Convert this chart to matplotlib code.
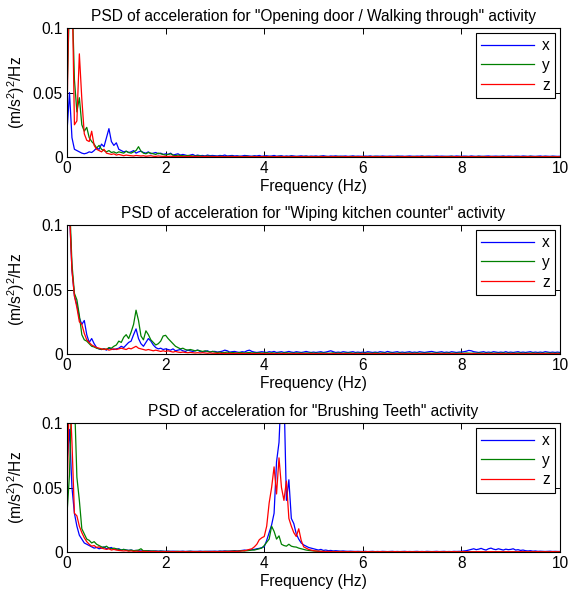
import numpy as np
import matplotlib
matplotlib.use("Agg")
import matplotlib.pyplot as plt

plt.rcParams['font.family'] = ['Liberation Sans', 'DejaVu Sans']
plt.rcParams['mathtext.fontset'] = 'custom'
plt.rcParams['mathtext.rm'] = 'Liberation Sans'
plt.rcParams['mathtext.it'] = 'Liberation Sans'

# frequency axis, 0..10 Hz in 0.05 Hz steps
freq = np.linspace(0, 10, 201)

titles = ['PSD of acceleration for "Opening door / Walking through" activity',
          'PSD of acceleration for "Wiping kitchen counter" activity',
          'PSD of acceleration for "Brushing Teeth" activity']
labels = ['x', 'y', 'z']

# PSD values in units of 1e-4 (m/s^2)^2/Hz, one row per Hz
door_x = [200, 500, 150, 60, 50, 40, 30, 25, 30, 40, 35, 50, 70, 60, 100, 80, 150, 220, 120, 90,
          110, 60, 50, 40, 45, 35, 40, 50, 30, 40, 45, 35, 30, 40, 25, 30, 35, 25, 30, 20,
          25, 20, 30, 15, 20, 25, 15, 20, 15, 10, 15, 20, 10, 15, 10, 12, 8, 15, 10, 12,
          10, 8, 12, 10, 15, 8, 10, 12, 8, 10, 6, 8, 12, 10, 8, 6, 10, 8, 12, 6,
          8, 10, 6, 8, 12, 6, 8, 10, 5, 8, 6, 10, 8, 5, 7, 9, 6, 8, 5, 7,
          6, 8, 5, 7, 10, 6, 5, 8, 6, 9, 5, 7, 6, 8, 5, 6, 9, 5, 7, 6,
          5, 7, 6, 8, 5, 6, 7, 5, 8, 6, 5, 7, 6, 5, 8, 6, 7, 5, 6, 8,
          6, 5, 7, 6, 8, 5, 6, 7, 5, 6, 8, 5, 7, 6, 5, 6, 7, 5, 8, 6,
          5, 7, 6, 5, 8, 6, 5, 7, 6, 5, 7, 8, 5, 6, 7, 5, 6, 8, 5, 7,
          6, 5, 7, 6, 5, 8, 6, 5, 7, 6, 5, 6, 8, 5, 7, 6, 5, 7, 6, 5,
          6]
door_y = [500, 1200, 1300, 600, 350, 460, 250, 200, 230, 150, 120, 100, 70, 90, 60, 50, 40, 50, 35, 40,
          30, 40, 35, 30, 45, 35, 30, 40, 50, 80, 45, 30, 25, 35, 30, 25, 20, 30, 25, 20,
          15, 20, 25, 15, 10, 15, 12, 10, 8, 12, 10, 8, 6, 10, 8, 6, 5, 8, 6, 5,
          5, 4, 6, 5, 3, 5, 4, 6, 3, 4, 5, 3, 4, 6, 3, 4, 5, 3, 4, 3,
          4, 3, 5, 3, 4, 3, 5, 4, 3, 4, 3, 5, 3, 4, 3, 4, 3, 5, 3, 4,
          3, 4, 3, 5, 3, 4, 3, 3, 4, 3, 5, 3, 4, 3, 3, 4, 3, 4, 3, 3,
          4, 3, 3, 4, 3, 5, 3, 4, 3, 3, 4, 3, 3, 4, 3, 4, 3, 3, 4, 3,
          3, 4, 3, 3, 5, 3, 4, 3, 4, 3, 3, 4, 3, 3, 4, 3, 5, 3, 3, 4,
          3, 3, 4, 3, 4, 3, 3, 5, 3, 4, 3, 3, 4, 3, 3, 4, 3, 4, 3, 3,
          4, 3, 3, 4, 3, 3, 4, 3, 5, 3, 3, 4, 3, 3, 4, 3, 3, 4, 3, 3,
          3]
door_z = [300, 1500, 1400, 250, 280, 800, 450, 180, 130, 120, 200, 90, 60, 50, 40, 60, 30, 25, 20, 25,
          15, 20, 15, 10, 15, 12, 10, 8, 12, 10, 8, 10, 6, 8, 10, 6, 5, 8, 6, 5,
          5, 4, 6, 4, 3, 5, 4, 3, 4, 3, 5, 3, 4, 3, 2, 3, 4, 3, 2, 3,
          2, 3, 2, 3, 2, 2, 3, 2, 3, 2, 2, 3, 2, 2, 3, 2, 3, 2, 2, 3,
          2, 2, 3, 2, 2, 3, 2, 2, 3, 2, 2, 2, 3, 2, 2, 3, 2, 2, 2, 3,
          2, 2, 2, 3, 2, 2, 2, 2, 3, 2, 2, 2, 2, 3, 2, 2, 2, 2, 2, 3,
          2, 2, 2, 2, 3, 2, 2, 2, 2, 2, 2, 3, 2, 2, 2, 2, 2, 3, 2, 2,
          2, 2, 2, 3, 2, 2, 2, 2, 2, 2, 3, 2, 2, 2, 2, 2, 2, 2, 3, 2,
          2, 2, 2, 2, 3, 2, 2, 2, 2, 2, 2, 2, 3, 2, 2, 2, 2, 2, 2, 2,
          3, 2, 2, 2, 2, 2, 2, 3, 2, 2, 2, 2, 2, 2, 3, 2, 2, 2, 2, 2,
          2]

wipe_x = [1500, 1100, 650, 450, 380, 280, 230, 260, 150, 90, 120, 80, 50, 40, 35, 40, 30, 45, 40, 35,
          40, 45, 60, 50, 70, 90, 100, 150, 195, 120, 80, 60, 90, 120, 100, 70, 50, 40, 45, 35,
          40, 35, 30, 40, 25, 30, 35, 25, 20, 30, 25, 20, 25, 30, 20, 15, 20, 25, 15, 20,
          20, 15, 18, 22, 30, 25, 15, 18, 20, 15, 12, 18, 15, 25, 30, 20, 15, 12, 15, 18,
          15, 12, 18, 15, 20, 12, 15, 18, 12, 15, 20, 15, 12, 18, 15, 12, 15, 20, 15, 12,
          15, 12, 15, 18, 12, 15, 20, 25, 18, 12, 15, 12, 18, 15, 12, 15, 18, 12, 15, 12,
          15, 12, 18, 15, 12, 15, 12, 18, 15, 12, 20, 15, 12, 15, 18, 12, 15, 12, 15, 18,
          12, 15, 12, 18, 15, 12, 15, 18, 20, 15, 12, 15, 18, 12, 15, 12, 18, 15, 12, 15,
          15, 18, 22, 28, 25, 18, 15, 12, 15, 18, 12, 15, 12, 18, 15, 12, 15, 12, 18, 12,
          15, 12, 15, 18, 12, 15, 12, 15, 18, 12, 15, 12, 15, 12, 18, 15, 12, 15, 12, 15,
          12]
wipe_y = [1500, 1200, 700, 470, 420, 300, 150, 110, 100, 80, 60, 55, 45, 40, 35, 40, 35, 50, 45, 60,
          70, 100, 90, 130, 150, 120, 170, 230, 340, 260, 140, 110, 180, 150, 110, 90, 70, 80, 100, 140,
          145, 120, 100, 80, 60, 50, 40, 45, 35, 30, 35, 30, 25, 30, 25, 20, 25, 20, 15, 20,
          15, 12, 15, 10, 12, 15, 10, 12, 10, 8, 12, 10, 8, 10, 12, 8, 10, 8, 10, 8,
          8, 10, 7, 9, 8, 6, 9, 7, 8, 10, 7, 8, 6, 9, 7, 8, 6, 8, 7, 9,
          7, 8, 6, 9, 7, 8, 6, 7, 9, 6, 8, 7, 6, 8, 7, 9, 6, 7, 8, 6,
          7, 6, 8, 7, 6, 9, 7, 6, 8, 7, 6, 8, 7, 6, 7, 8, 6, 7, 6, 8,
          6, 7, 8, 6, 7, 6, 8, 7, 6, 7, 8, 6, 7, 6, 8, 7, 6, 7, 6, 8,
          7, 6, 8, 7, 6, 7, 6, 8, 7, 6, 7, 6, 8, 6, 7, 6, 7, 8, 6, 7,
          6, 7, 6, 8, 7, 6, 7, 6, 7, 8, 6, 7, 6, 7, 6, 8, 6, 7, 6, 7,
          6]
wipe_z = [1500, 1100, 650, 450, 360, 250, 230, 160, 110, 90, 70, 60, 50, 45, 40, 35, 40, 30, 35, 40,
          35, 40, 45, 40, 35, 45, 40, 50, 60, 45, 40, 35, 30, 35, 30, 25, 30, 25, 20, 25,
          20, 25, 20, 15, 20, 15, 12, 15, 12, 10, 12, 10, 8, 10, 8, 10, 8, 6, 8, 6,
          6, 5, 6, 4, 5, 4, 5, 3, 4, 5, 3, 4, 3, 4, 3, 4, 3, 3, 4, 3,
          3, 2, 3, 3, 2, 3, 2, 3, 3, 2, 3, 2, 3, 2, 3, 3, 2, 3, 2, 3,
          2, 3, 2, 3, 2, 2, 3, 2, 3, 2, 2, 3, 2, 3, 2, 2, 3, 2, 2, 3,
          2, 2, 3, 2, 2, 3, 2, 2, 3, 2, 2, 2, 3, 2, 2, 3, 2, 2, 2, 3,
          2, 2, 2, 3, 2, 2, 2, 3, 2, 2, 2, 3, 2, 2, 2, 2, 3, 2, 2, 2,
          3, 2, 2, 2, 2, 3, 2, 2, 2, 2, 3, 2, 2, 2, 2, 2, 3, 2, 2, 2,
          2, 3, 2, 2, 2, 2, 2, 3, 2, 2, 2, 2, 2, 3, 2, 2, 2, 2, 2, 2,
          2]

brush_x = [700, 950, 500, 300, 200, 130, 100, 70, 60, 50, 40, 30, 35, 25, 30, 40, 25, 30, 35, 20,
           20, 25, 15, 20, 15, 12, 15, 10, 12, 10, 8, 10, 8, 10, 8, 6, 8, 6, 8, 6,
           5, 6, 5, 6, 5, 4, 5, 6, 4, 5, 6, 5, 4, 5, 6, 5, 4, 5, 6, 5,
           6, 5, 7, 6, 8, 6, 7, 8, 10, 8, 10, 12, 15, 12, 15, 18, 20, 25, 28, 34,
           40, 90, 150, 210, 300, 700, 850, 1300, 1250, 400, 560, 260, 220, 140, 100, 70, 55, 45, 35, 30,
           25, 20, 15, 20, 12, 15, 10, 12, 8, 10, 8, 6, 8, 6, 5, 6, 5, 4, 5, 4,
           4, 5, 3, 4, 5, 3, 4, 3, 5, 4, 3, 4, 5, 3, 4, 3, 4, 5, 3, 4,
           3, 4, 5, 3, 4, 3, 5, 4, 3, 4, 5, 3, 4, 5, 3, 4, 3, 5, 4, 5,
           5, 8, 10, 15, 20, 25, 18, 22, 28, 20, 15, 25, 30, 22, 18, 25, 20, 15, 22, 18,
           20, 25, 15, 18, 12, 15, 10, 8, 10, 6, 8, 5, 6, 5, 4, 5, 6, 4, 5, 4,
           4]
brush_y = [300, 600, 1300, 1200, 580, 400, 180, 140, 100, 90, 70, 80, 60, 50, 40, 35, 45, 30, 25, 30,
           25, 20, 15, 20, 15, 12, 15, 10, 12, 15, 25, 8, 10, 8, 6, 8, 6, 5, 6, 5,
           4, 5, 4, 3, 4, 5, 3, 4, 3, 4, 5, 3, 4, 3, 4, 3, 5, 4, 3, 4,
           4, 3, 5, 4, 5, 6, 5, 6, 8, 6, 8, 10, 8, 10, 12, 15, 15, 20, 25, 30,
           50, 75, 100, 200, 160, 100, 125, 60, 50, 45, 60, 45, 40, 38, 30, 25, 20, 15, 12, 10,
           8, 6, 5, 4, 5, 3, 4, 3, 4, 3, 3, 4, 3, 2, 3, 3, 2, 3, 2, 3,
           2, 3, 2, 2, 3, 2, 3, 2, 2, 3, 2, 2, 3, 2, 3, 2, 2, 3, 2, 2,
           3, 2, 2, 3, 2, 2, 3, 2, 3, 2, 2, 3, 2, 2, 3, 2, 2, 2, 3, 2,
           2, 3, 2, 2, 3, 2, 2, 3, 2, 2, 3, 2, 2, 2, 3, 2, 3, 2, 2, 3,
           2, 2, 3, 2, 2, 3, 2, 2, 2, 3, 2, 2, 3, 2, 2, 2, 3, 2, 2, 2,
           2]
brush_z = [400, 1300, 850, 300, 280, 200, 150, 110, 80, 60, 45, 50, 35, 40, 30, 25, 20, 25, 15, 20,
           15, 12, 10, 8, 10, 6, 8, 5, 6, 5, 4, 5, 4, 3, 4, 3, 4, 3, 2, 3,
           2, 3, 2, 3, 2, 2, 3, 2, 3, 2, 2, 3, 2, 2, 3, 2, 3, 2, 2, 3,
           3, 2, 3, 3, 4, 3, 4, 5, 4, 5, 6, 8, 10, 15, 20, 25, 40, 60, 95, 110,
           120, 200, 380, 500, 660, 450, 730, 500, 400, 550, 260, 200, 150, 120, 180, 90, 40, 30, 20, 15,
           10, 8, 6, 5, 4, 3, 4, 3, 2, 3, 2, 3, 2, 2, 3, 2, 2, 3, 2, 2,
           2, 2, 3, 2, 2, 2, 2, 3, 2, 2, 2, 2, 2, 3, 2, 2, 2, 2, 3, 2,
           2, 2, 2, 2, 3, 2, 2, 2, 2, 2, 3, 2, 2, 2, 2, 2, 2, 3, 2, 2,
           2, 3, 2, 2, 2, 2, 2, 3, 2, 2, 2, 2, 3, 2, 2, 2, 2, 2, 2, 3,
           2, 2, 2, 2, 3, 2, 2, 2, 2, 2, 2, 3, 2, 2, 2, 2, 2, 3, 2, 2,
           2]

series = [(door_x, door_y, door_z), (wipe_x, wipe_y, wipe_z), (brush_x, brush_y, brush_z)]
colors = ['#0000ff', '#008000', '#ff0000']

fig = plt.figure(figsize=(5.69, 5.97), dpi=100)
left, width, height = 0.1178, 0.8664, 0.216
bottoms = [0.737, 0.407, 0.0754]
fs = 11.2

for i in range(3):
    ax = fig.add_axes([left, bottoms[i], width, height])
    for vals, c, lab in zip(series[i], colors, labels):
        ax.plot(freq, np.array(vals) * 1e-4, color=c, lw=0.9, label=lab)
    ax.set_xlim(0, 10)
    ax.set_ylim(0, 0.1)
    ax.set_xticks([0, 2, 4, 6, 8, 10])
    ax.set_yticks([0, 0.05, 0.1])
    ax.set_yticklabels(['0', '0.05', '0.1'])
    ax.tick_params(direction='in', top=True, right=True, labelsize=fs, length=4, width=0.7, pad=3)
    for s in ax.spines.values():
        s.set_linewidth(0.8)
    ax.set_title(titles[i], fontsize=fs, pad=5)
    ax.set_xlabel('Frequency (Hz)', fontsize=fs, labelpad=2)
    ax.set_ylabel(r'(m/s$^2$)$^2$/Hz', fontsize=fs, labelpad=4)
    leg = ax.legend(loc='upper right', fontsize=fs, fancybox=False, framealpha=1,
                    edgecolor='black', handlelength=3.4, borderpad=0.35, labelspacing=0.3,
                    handletextpad=0.5, borderaxespad=0.3)
    leg.get_frame().set_linewidth(0.8)

fig.savefig('out.png', dpi=100)
